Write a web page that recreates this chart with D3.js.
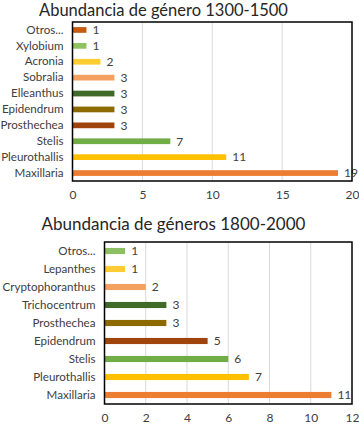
<!DOCTYPE html>
<html><head><meta charset="utf-8">
<script src="https://cdn.jsdelivr.net/npm/d3@7"></script>
<style>body{margin:0;background:#fff}svg{display:block}text{font-family:Lato,"Open Sans",sans-serif}</style>
</head><body><svg id="c" width="359" height="430"></svg>
<script>
const title1 = "Abundancia de género 1300-1500";
const cats1 = ["Otros...","Xylobium","Acronia","Sobralia","Elleanthus","Epidendrum","Prosthechea","Stelis","Pleurothallis","Maxillaria"];
const vals1 = [1,1,2,3,3,3,3,7,11,19];
const colors1 = ["#C55A11","#8FC260","#FFCD33","#F4A060","#3F6A28","#8C6A00","#A0440E","#70AD47","#FFC000","#ED7D31"];
const ticks1 = [0,5,10,15,20];

const title2 = "Abundancia de géneros 1800-2000";
const cats2 = ["Otros...","Lepanthes","Cryptophoranthus","Trichocentrum","Prosthechea","Epidendrum","Stelis","Pleurothallis","Maxillaria"];
const vals2 = [1,1,2,3,3,5,6,7,11];
const colors2 = ["#8CC063","#FFCD33","#F4A060","#3F6A28","#8C6A00","#A0440E","#70AD47","#FFC000","#ED7D31"];
const ticks2 = [0,2,4,6,8,10,12];

const svg = d3.select("#c");

function drawChart(cfg){
  const g = svg.append("g");
  const x = d3.scaleLinear().domain([0, d3.max(cfg.ticks)]).range([cfg.left, cfg.right]);
  const y = d3.scaleBand().domain(cfg.cats).range([cfg.top, cfg.bottom]).paddingInner(cfg.pad).paddingOuter(cfg.pad/2);
  g.append("text").attr("x", cfg.titleX).attr("y", cfg.titleY).attr("text-anchor","middle")
    .attr("font-size", cfg.titleSize).attr("fill","#262626").text(cfg.title);
  g.selectAll(".grid").data(cfg.ticks.slice(1,-1)).join("line")
    .attr("x1", d=>x(d)).attr("x2", d=>x(d)).attr("y1", cfg.top).attr("y2", cfg.bottom)
    .attr("stroke","#d9d9d9").attr("stroke-width",1);
  g.selectAll(".bar").data(cfg.vals).join("rect")
    .attr("x", x(0)).attr("y", (d,i)=>y(cfg.cats[i]))
    .attr("width", d=>x(d)-x(0)).attr("height", y.bandwidth())
    .attr("fill", (d,i)=>cfg.colors[i]);
  g.selectAll(".val").data(cfg.vals).join("text")
    .attr("x", d=>x(d)+6).attr("y", (d,i)=>y(cfg.cats[i])+y.bandwidth()/2)
    .attr("dy","0.36em").attr("font-size",12).attr("fill","#404040").text(d=>d);
  g.append("rect").attr("x", cfg.left).attr("y", cfg.top).attr("width", cfg.right-cfg.left).attr("height", cfg.bottom-cfg.top)
    .attr("fill","none").attr("stroke","#000").attr("stroke-width",1.5);
  const ya = d3.axisLeft(y).tickSize(0).tickPadding(9);
  const yg = g.append("g").attr("transform",`translate(${cfg.left},0)`).call(ya);
  yg.select(".domain").remove();
  yg.selectAll("text").attr("font-size",11.6).attr("fill","#404040").style("font-family","Lato,'Open Sans',sans-serif");
  const xa = d3.axisBottom(x).tickValues(cfg.ticks).tickSize(0).tickPadding(9);
  const xg = g.append("g").attr("transform",`translate(0,${cfg.bottom})`).call(xa);
  xg.select(".domain").remove();
  xg.selectAll("text").attr("font-size",12).attr("fill","#404040").style("font-family","Lato,'Open Sans',sans-serif");
}

drawChart({title:title1, cats:cats1, vals:vals1, colors:colors1, ticks:ticks1,
  left:72.5, right:352, top:22, bottom:181, pad:0.64, titleX:163.5, titleY:16, titleSize:16.5});
drawChart({title:title2, cats:cats2, vals:vals2, colors:colors2, ticks:ticks2,
  left:104.5, right:352, top:242, bottom:404, pad:0.66, titleX:173.5, titleY:230, titleSize:17});
</script></body></html>
